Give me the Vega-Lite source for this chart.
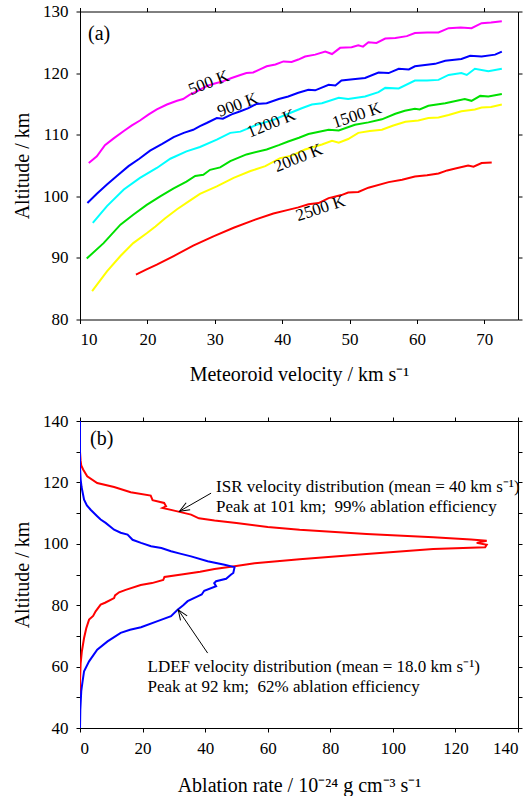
{
  "$schema": "https://vega.github.io/schema/vega-lite/v6.json",
  "background": "white",
  "padding": {"left": 12, "top": 2.5, "right": 5, "bottom": 0},
  "spacing": 27.5,
  "resolve": {"scale": {"color": "independent"}},
  "config": {
    "font": "Liberation Serif",
    "view": {"stroke": null},
    "axis": {
      "grid": false, "domainColor": "black", "tickColor": "black", "labelColor": "black", "titleColor": "black",
      "labelFont": "Liberation Serif", "titleFont": "Liberation Serif", "labelFontSize": 17, "titleFontSize": 20,
      "titleFontWeight": "normal", "tickSize": 4, "labelPadding": 8, "domainWidth": 1, "tickWidth": 1
    },
    "axisX": {"titlePadding": 17},
    "axisY": {"titlePadding": 10}
  },
  "datasets": {
    "a": [
      {"T":"500 K","v":11.3,"alt":105.4},{"T":"500 K","v":12.5,"alt":106.5},{"T":"500 K","v":13.7,"alt":108.3},{"T":"500 K","v":15,"alt":109.4},{"T":"500 K","v":16.5,"alt":110.6},{"T":"500 K","v":17.7,"alt":111.5},{"T":"500 K","v":18.9,"alt":112.3},{"T":"500 K","v":20.2,"alt":113.3},{"T":"500 K","v":21.4,"alt":114.1},{"T":"500 K","v":22.9,"alt":114.9},{"T":"500 K","v":24.4,"alt":115.5},{"T":"500 K","v":25.3,"alt":115.8},{"T":"500 K","v":26.3,"alt":116.5},{"T":"500 K","v":27.5,"alt":117.1},{"T":"500 K","v":28.8,"alt":117.9},{"T":"500 K","v":30,"alt":118.3},{"T":"500 K","v":31.3,"alt":118.7},{"T":"500 K","v":32.5,"alt":119.2},{"T":"500 K","v":33.8,"alt":119.7},{"T":"500 K","v":34.7,"alt":120.0},{"T":"500 K","v":35.7,"alt":120.1},{"T":"500 K","v":36.7,"alt":120.6},{"T":"500 K","v":37.7,"alt":121.1},{"T":"500 K","v":39,"alt":121.4},{"T":"500 K","v":40.2,"alt":121.9},{"T":"500 K","v":41.4,"alt":121.8},{"T":"500 K","v":42.4,"alt":122.2},{"T":"500 K","v":43.4,"alt":122.7},{"T":"500 K","v":44.9,"alt":123.0},{"T":"500 K","v":46.4,"alt":123.5},{"T":"500 K","v":47.4,"alt":123.1},{"T":"500 K","v":48.6,"alt":124.1},{"T":"500 K","v":50.3,"alt":124.2},{"T":"500 K","v":51.3,"alt":124.5},{"T":"500 K","v":52,"alt":124.3},{"T":"500 K","v":52.8,"alt":125.0},{"T":"500 K","v":54.0,"alt":124.9},{"T":"500 K","v":55.3,"alt":125.6},{"T":"500 K","v":56.8,"alt":125.7},{"T":"500 K","v":58.5,"alt":126.0},{"T":"500 K","v":59.7,"alt":126.5},{"T":"500 K","v":61.5,"alt":126.6},{"T":"500 K","v":63.2,"alt":126.6},{"T":"500 K","v":64.7,"alt":127.3},{"T":"500 K","v":66.5,"alt":127.4},{"T":"500 K","v":68.1,"alt":127.3},{"T":"500 K","v":69.6,"alt":128.1},{"T":"500 K","v":71,"alt":128.2},{"T":"500 K","v":72.6,"alt":128.4},
      {"T":"900 K","v":11.1,"alt":98.9},{"T":"900 K","v":12.5,"alt":100.4},{"T":"900 K","v":14.0,"alt":101.9},{"T":"900 K","v":15.6,"alt":103.4},{"T":"900 K","v":17.2,"alt":104.9},{"T":"900 K","v":18.8,"alt":106.1},{"T":"900 K","v":20.4,"alt":107.4},{"T":"900 K","v":22.2,"alt":108.5},{"T":"900 K","v":23.9,"alt":109.6},{"T":"900 K","v":25.4,"alt":110.3},{"T":"900 K","v":26.8,"alt":110.8},{"T":"900 K","v":27.8,"alt":111.4},{"T":"900 K","v":28.8,"alt":111.9},{"T":"900 K","v":30.3,"alt":112.7},{"T":"900 K","v":31.2,"alt":112.6},{"T":"900 K","v":32.5,"alt":113.3},{"T":"900 K","v":33.8,"alt":113.8},{"T":"900 K","v":35,"alt":114.3},{"T":"900 K","v":36.2,"alt":115.0},{"T":"900 K","v":37.7,"alt":115.1},{"T":"900 K","v":39.5,"alt":115.8},{"T":"900 K","v":40.9,"alt":116.2},{"T":"900 K","v":42.4,"alt":116.8},{"T":"900 K","v":43.9,"alt":117.3},{"T":"900 K","v":44.9,"alt":117.2},{"T":"900 K","v":46.9,"alt":118.1},{"T":"900 K","v":47.9,"alt":118.0},{"T":"900 K","v":48.8,"alt":118.8},{"T":"900 K","v":50.5,"alt":119.0},{"T":"900 K","v":52.3,"alt":119.2},{"T":"900 K","v":54.3,"alt":120.1},{"T":"900 K","v":55.8,"alt":120.0},{"T":"900 K","v":57.3,"alt":120.7},{"T":"900 K","v":58.8,"alt":120.6},{"T":"900 K","v":59.7,"alt":121.1},{"T":"900 K","v":61.2,"alt":121.3},{"T":"900 K","v":62.7,"alt":121.5},{"T":"900 K","v":64.2,"alt":122.0},{"T":"900 K","v":66.6,"alt":122.3},{"T":"900 K","v":67.9,"alt":122.8},{"T":"900 K","v":69.6,"alt":122.7},{"T":"900 K","v":71.6,"alt":123.0},{"T":"900 K","v":72.6,"alt":123.5},
      {"T":"1200 K","v":11.9,"alt":95.7},{"T":"1200 K","v":14.0,"alt":98.4},{"T":"1200 K","v":16.5,"alt":101.1},{"T":"1200 K","v":18.9,"alt":103.0},{"T":"1200 K","v":21.4,"alt":104.6},{"T":"1200 K","v":23.4,"alt":106.1},{"T":"1200 K","v":25.8,"alt":107.3},{"T":"1200 K","v":27.8,"alt":108.0},{"T":"1200 K","v":30.3,"alt":109.2},{"T":"1200 K","v":32.3,"alt":110.3},{"T":"1200 K","v":33.8,"alt":110.5},{"T":"1200 K","v":36.2,"alt":111.6},{"T":"1200 K","v":38.7,"alt":112.4},{"T":"1200 K","v":40.9,"alt":113.4},{"T":"1200 K","v":42.9,"alt":114.3},{"T":"1200 K","v":44.4,"alt":114.9},{"T":"1200 K","v":45.9,"alt":115.1},{"T":"1200 K","v":48.4,"alt":116.0},{"T":"1200 K","v":49.8,"alt":115.8},{"T":"1200 K","v":52.3,"alt":116.2},{"T":"1200 K","v":54.3,"alt":116.9},{"T":"1200 K","v":55.3,"alt":117.6},{"T":"1200 K","v":57.3,"alt":117.5},{"T":"1200 K","v":59.7,"alt":118.8},{"T":"1200 K","v":61.5,"alt":118.8},{"T":"1200 K","v":63.2,"alt":118.9},{"T":"1200 K","v":64.7,"alt":119.7},{"T":"1200 K","v":66.6,"alt":120.0},{"T":"1200 K","v":67.4,"alt":119.7},{"T":"1200 K","v":68.6,"alt":120.7},{"T":"1200 K","v":70.6,"alt":120.3},{"T":"1200 K","v":72.6,"alt":120.7},
      {"T":"1500 K","v":11.0,"alt":89.9},{"T":"1500 K","v":13.5,"alt":92.4},{"T":"1500 K","v":16.0,"alt":95.4},{"T":"1500 K","v":17.9,"alt":97.0},{"T":"1500 K","v":19.9,"alt":98.6},{"T":"1500 K","v":21.9,"alt":100.0},{"T":"1500 K","v":23.9,"alt":101.3},{"T":"1500 K","v":25.8,"alt":102.4},{"T":"1500 K","v":27.1,"alt":103.3},{"T":"1500 K","v":28.3,"alt":103.5},{"T":"1500 K","v":29.3,"alt":104.3},{"T":"1500 K","v":30.8,"alt":104.7},{"T":"1500 K","v":32.3,"alt":105.7},{"T":"1500 K","v":34.7,"alt":106.8},{"T":"1500 K","v":37.7,"alt":107.6},{"T":"1500 K","v":39.5,"alt":108.3},{"T":"1500 K","v":40.9,"alt":108.9},{"T":"1500 K","v":42.5,"alt":109.5},{"T":"1500 K","v":43.9,"alt":110.1},{"T":"1500 K","v":46.9,"alt":110.8},{"T":"1500 K","v":48.4,"alt":110.7},{"T":"1500 K","v":50.8,"alt":111.6},{"T":"1500 K","v":52.8,"alt":112.0},{"T":"1500 K","v":54.8,"alt":112.5},{"T":"1500 K","v":56.8,"alt":113.4},{"T":"1500 K","v":58.2,"alt":113.9},{"T":"1500 K","v":59.7,"alt":114.2},{"T":"1500 K","v":60.4,"alt":114.1},{"T":"1500 K","v":61.7,"alt":114.7},{"T":"1500 K","v":64.2,"alt":115.1},{"T":"1500 K","v":67.1,"alt":115.8},{"T":"1500 K","v":68.1,"alt":115.5},{"T":"1500 K","v":69.4,"alt":116.3},{"T":"1500 K","v":70.6,"alt":116.2},{"T":"1500 K","v":72.6,"alt":116.6},
      {"T":"2000 K","v":11.8,"alt":84.6},{"T":"2000 K","v":14.0,"alt":87.8},{"T":"2000 K","v":16.0,"alt":90.3},{"T":"2000 K","v":17.9,"alt":92.4},{"T":"2000 K","v":19.9,"alt":94.0},{"T":"2000 K","v":21.2,"alt":95.1},{"T":"2000 K","v":22.6,"alt":96.4},{"T":"2000 K","v":24.4,"alt":97.9},{"T":"2000 K","v":26.3,"alt":99.3},{"T":"2000 K","v":27.8,"alt":100.4},{"T":"2000 K","v":30.3,"alt":101.6},{"T":"2000 K","v":32.8,"alt":103.0},{"T":"2000 K","v":35.3,"alt":104.1},{"T":"2000 K","v":37.5,"alt":104.9},{"T":"2000 K","v":39.7,"alt":106.2},{"T":"2000 K","v":41.4,"alt":106.6},{"T":"2000 K","v":43.4,"alt":107.6},{"T":"2000 K","v":45.9,"alt":108.4},{"T":"2000 K","v":47.4,"alt":109.0},{"T":"2000 K","v":48.4,"alt":108.7},{"T":"2000 K","v":49.8,"alt":109.3},{"T":"2000 K","v":51.3,"alt":110.3},{"T":"2000 K","v":53,"alt":110.6},{"T":"2000 K","v":54.8,"alt":110.8},{"T":"2000 K","v":56.5,"alt":111.5},{"T":"2000 K","v":58.3,"alt":112.1},{"T":"2000 K","v":60.2,"alt":112.3},{"T":"2000 K","v":61.7,"alt":112.7},{"T":"2000 K","v":63.2,"alt":112.8},{"T":"2000 K","v":64.7,"alt":113.2},{"T":"2000 K","v":66.6,"alt":113.8},{"T":"2000 K","v":68.6,"alt":114.1},{"T":"2000 K","v":69.6,"alt":114.4},{"T":"2000 K","v":71,"alt":114.5},{"T":"2000 K","v":72.6,"alt":114.9},
      {"T":"2500 K","v":18.3,"alt":87.3},{"T":"2500 K","v":19.8,"alt":88.1},{"T":"2500 K","v":21.4,"alt":88.9},{"T":"2500 K","v":23.9,"alt":90.3},{"T":"2500 K","v":26.8,"alt":92.0},{"T":"2500 K","v":29.8,"alt":93.5},{"T":"2500 K","v":32.8,"alt":94.9},{"T":"2500 K","v":35.7,"alt":96.1},{"T":"2500 K","v":38.7,"alt":97.2},{"T":"2500 K","v":40.9,"alt":97.8},{"T":"2500 K","v":42.4,"alt":98.2},{"T":"2500 K","v":43.9,"alt":98.7},{"T":"2500 K","v":45.4,"alt":98.9},{"T":"2500 K","v":46.9,"alt":99.7},{"T":"2500 K","v":48.8,"alt":100.2},{"T":"2500 K","v":49.8,"alt":100.6},{"T":"2500 K","v":51.3,"alt":100.7},{"T":"2500 K","v":52.8,"alt":101.4},{"T":"2500 K","v":55.8,"alt":102.3},{"T":"2500 K","v":57.8,"alt":102.7},{"T":"2500 K","v":59.7,"alt":103.2},{"T":"2500 K","v":61.5,"alt":103.4},{"T":"2500 K","v":63.2,"alt":103.7},{"T":"2500 K","v":64.5,"alt":104.2},{"T":"2500 K","v":65.7,"alt":104.5},{"T":"2500 K","v":67.6,"alt":105.0},{"T":"2500 K","v":68.4,"alt":104.8},{"T":"2500 K","v":69.6,"alt":105.4},{"T":"2500 K","v":71.1,"alt":105.5}
    ],
    "alab": [
      {"label":"500 K","v":29.1,"alt":118.4,"ang":-21},
      {"label":"900 K","v":33.4,"alt":114.8,"ang":-20},
      {"label":"1200 K","v":38.4,"alt":111.8,"ang":-22},
      {"label":"1500 K","v":51.1,"alt":113.1,"ang":-18},
      {"label":"2000 K","v":42.4,"alt":106.2,"ang":-22},
      {"label":"2500 K","v":45.7,"alt":98.0,"ang":-18}
    ],
    "pa": [{"label":"(a)","v":11.2,"alt":125.4}],
    "b": [
      {"s":"ISR","rate":0,"alt":140},{"s":"ISR","rate":0,"alt":130},{"s":"ISR","rate":0.2,"alt":127},{"s":"ISR","rate":0.4,"alt":125.5},{"s":"ISR","rate":1,"alt":124.2},{"s":"ISR","rate":2.3,"alt":122},{"s":"ISR","rate":5.5,"alt":119.8},{"s":"ISR","rate":10.9,"alt":118.5},{"s":"ISR","rate":16.2,"alt":116.8},{"s":"ISR","rate":22.6,"alt":115.7},{"s":"ISR","rate":23.2,"alt":114.2},{"s":"ISR","rate":26.9,"alt":113.3},{"s":"ISR","rate":27.5,"alt":112.2},{"s":"ISR","rate":26.4,"alt":111.7},{"s":"ISR","rate":30.1,"alt":110.8},{"s":"ISR","rate":35.5,"alt":109.5},{"s":"ISR","rate":38,"alt":108.3},{"s":"ISR","rate":43,"alt":107.6},{"s":"ISR","rate":50,"alt":106.8},{"s":"ISR","rate":60,"alt":105.5},{"s":"ISR","rate":70.2,"alt":104.6},{"s":"ISR","rate":91.6,"alt":103.2},{"s":"ISR","rate":112.9,"alt":102.1},{"s":"ISR","rate":125,"alt":101.4},{"s":"ISR","rate":130,"alt":101.0},{"s":"ISR","rate":126.8,"alt":100.3},{"s":"ISR","rate":130,"alt":99.7},{"s":"ISR","rate":129.5,"alt":98.9},{"s":"ISR","rate":112.9,"alt":98.3},{"s":"ISR","rate":91.6,"alt":96.7},{"s":"ISR","rate":70.2,"alt":95.0},{"s":"ISR","rate":55.8,"alt":93.7},{"s":"ISR","rate":49.4,"alt":92.7},{"s":"ISR","rate":43,"alt":91.8},{"s":"ISR","rate":38.4,"alt":90.9},{"s":"ISR","rate":33,"alt":90.1},{"s":"ISR","rate":27,"alt":89.2},{"s":"ISR","rate":26.6,"alt":88.2},{"s":"ISR","rate":23,"alt":87.2},{"s":"ISR","rate":19.4,"alt":86.6},{"s":"ISR","rate":14.6,"alt":85.0},{"s":"ISR","rate":12.5,"alt":84.2},{"s":"ISR","rate":11.2,"alt":83.2},{"s":"ISR","rate":10.9,"alt":82.3},{"s":"ISR","rate":8,"alt":80.8},{"s":"ISR","rate":6.6,"alt":80.2},{"s":"ISR","rate":5.0,"alt":78.0},{"s":"ISR","rate":4.2,"alt":76.5},{"s":"ISR","rate":2.9,"alt":75.3},{"s":"ISR","rate":2,"alt":72.5},{"s":"ISR","rate":1.3,"alt":69.3},{"s":"ISR","rate":0.6,"alt":65},{"s":"ISR","rate":0.2,"alt":61},{"s":"ISR","rate":0,"alt":55},{"s":"ISR","rate":0,"alt":48},
      {"s":"LDEF","rate":0,"alt":140},{"s":"LDEF","rate":0,"alt":125},{"s":"LDEF","rate":0.2,"alt":121},{"s":"LDEF","rate":0.5,"alt":118.5},{"s":"LDEF","rate":1.3,"alt":114.4},{"s":"LDEF","rate":2.2,"alt":112.5},{"s":"LDEF","rate":3.4,"alt":111.1},{"s":"LDEF","rate":5.5,"alt":109.0},{"s":"LDEF","rate":6.6,"alt":107.9},{"s":"LDEF","rate":8.2,"alt":106.8},{"s":"LDEF","rate":10.9,"alt":104.6},{"s":"LDEF","rate":13,"alt":103.6},{"s":"LDEF","rate":15.2,"alt":103.0},{"s":"LDEF","rate":16.8,"alt":101.3},{"s":"LDEF","rate":19.5,"alt":100.3},{"s":"LDEF","rate":22.7,"alt":99.2},{"s":"LDEF","rate":26,"alt":98.6},{"s":"LDEF","rate":29.1,"alt":97.6},{"s":"LDEF","rate":32,"alt":96.8},{"s":"LDEF","rate":35.5,"alt":95.9},{"s":"LDEF","rate":40.8,"alt":94.3},{"s":"LDEF","rate":46.2,"alt":93.2},{"s":"LDEF","rate":49.4,"alt":92.4},{"s":"LDEF","rate":49,"alt":90.5},{"s":"LDEF","rate":48.3,"alt":90.0},{"s":"LDEF","rate":46.7,"alt":88.6},{"s":"LDEF","rate":43.5,"alt":87.8},{"s":"LDEF","rate":42.9,"alt":87.2},{"s":"LDEF","rate":43.5,"alt":86.2},{"s":"LDEF","rate":39.7,"alt":84.7},{"s":"LDEF","rate":38.9,"alt":83.5},{"s":"LDEF","rate":37.6,"alt":82.9},{"s":"LDEF","rate":34.4,"alt":81.3},{"s":"LDEF","rate":33,"alt":80},{"s":"LDEF","rate":31.2,"alt":78.5},{"s":"LDEF","rate":29.1,"alt":76.4},{"s":"LDEF","rate":24.8,"alt":74.8},{"s":"LDEF","rate":19.5,"alt":72.8},{"s":"LDEF","rate":16,"alt":72.0},{"s":"LDEF","rate":13,"alt":71.0},{"s":"LDEF","rate":8.8,"alt":68.2},{"s":"LDEF","rate":5.5,"alt":65.5},{"s":"LDEF","rate":2.9,"alt":61.7},{"s":"LDEF","rate":1.3,"alt":58.5},{"s":"LDEF","rate":0.8,"alt":55},{"s":"LDEF","rate":0.4,"alt":52.0},{"s":"LDEF","rate":0.1,"alt":46},{"s":"LDEF","rate":0,"alt":40}
    ],
    "btext": [
      {"t":"ISR velocity distribution (mean = 40 km s⁻¹)","rate":43.5,"alt":116.8},
      {"t":"Peak at 101 km;\u00a0 99% ablation efficiency","rate":43.5,"alt":110.3},
      {"t":"LDEF velocity distribution (mean = 18.0 km s⁻¹)","rate":21.6,"alt":58.2},
      {"t":"Peak at 92 km;\u00a0 62% ablation efficiency","rate":21.6,"alt":51.7}
    ],
    "pb": [{"label":"(b)","rate":3.2,"alt":132.2}],
    "arrows": [
      {"rate":41.9,"alt":116.5,"rate2":31.8,"alt2":110.6,"ang":150},
      {"rate":40.8,"alt":64.4,"rate2":31.4,"alt2":78.5,"ang":236}
    ]
  },
  "vconcat": [
    {
      "width": 438, "height": 308,
      "layer": [
        {
          "data": {"name": "a"},
          "mark": {"type": "line", "strokeWidth": 2, "clip": true},
          "encoding": {
            "x": {"field": "v", "type": "quantitative", "scale": {"domain": [10, 75], "nice": false, "zero": false},
                  "axis": {"values": [10,20,30,40,50,60,70], "title": "Meteoroid velocity / km s⁻¹"}},
            "y": {"field": "alt", "type": "quantitative", "scale": {"domain": [80, 130], "nice": false, "zero": false},
                  "axis": {"values": [80,90,100,110,120,130], "title": "Altitude / km"}},
            "color": {"field": "T", "type": "nominal", "legend": null,
                      "scale": {"domain": ["500 K","900 K","1200 K","1500 K","2000 K","2500 K"],
                                "range": ["#ff00ff","#0000ff","#00ffff","#00e000","#ffff00","#ff0000"]}}
          }
        },
        {
          "data": {"name": "alab"},
          "mark": {"type": "text", "fontSize": 17, "font": "Liberation Serif", "color": "black", "align": "center", "baseline": "middle"},
          "encoding": {
            "x": {"field": "v", "type": "quantitative", "scale": {"domain": [10, 75], "nice": false, "zero": false},
                  "axis": {"orient": "top", "labels": false, "title": null, "values": [10,20,30,40,50,60,70]}},
            "y": {"field": "alt", "type": "quantitative", "scale": {"domain": [80, 130], "nice": false, "zero": false},
                  "axis": {"orient": "right", "labels": false, "title": null, "values": [80,90,100,110,120,130]}},
            "text": {"field": "label"},
            "angle": {"field": "ang", "type": "quantitative", "scale": null}
          }
        },
        {
          "data": {"name": "pa"},
          "mark": {"type": "text", "fontSize": 20, "font": "Liberation Serif", "color": "black", "align": "left", "baseline": "alphabetic"},
          "encoding": {
            "x": {"field": "v", "type": "quantitative", "axis": null},
            "y": {"field": "alt", "type": "quantitative", "axis": null},
            "text": {"field": "label"}
          }
        }
      ],
      "resolve": {"axis": {"x": "independent", "y": "independent"}}
    },
    {
      "width": 438, "height": 307,
      "layer": [
        {
          "data": {"name": "b"},
          "mark": {"type": "line", "strokeWidth": 2, "clip": true},
          "encoding": {
            "x": {"field": "rate", "type": "quantitative", "scale": {"domain": [0, 140], "nice": false},
                  "axis": {"values": [0,20,40,60,80,100,120,140], "title": "Ablation rate / 10⁻²⁴ g cm⁻³ s⁻¹", "titlePadding": 19}},
            "y": {"field": "alt", "type": "quantitative", "scale": {"domain": [40, 140], "nice": false, "zero": false},
                  "axis": {"values": [40,50,60,70,80,90,100,110,120,130,140], "labelExpr": "datum.value % 20 === 0 ? datum.label : ''", "title": "Altitude / km"}},
            "color": {"field": "s", "type": "nominal", "legend": null,
                      "scale": {"domain": ["ISR","LDEF"], "range": ["#ff0000","#0000ff"]}},
            "order": {"field": "alt", "type": "quantitative", "sort": "descending"}
          }
        },
        {
          "data": {"name": "arrows"},
          "mark": {"type": "rule", "color": "black", "strokeWidth": 1},
          "encoding": {
            "x": {"field": "rate", "type": "quantitative", "scale": {"domain": [0, 140], "nice": false},
                  "axis": {"orient": "top", "labels": false, "title": null, "values": [0,20,40,60,80,100,120,140]}},
            "y": {"field": "alt", "type": "quantitative", "scale": {"domain": [40, 140], "nice": false, "zero": false},
                  "axis": {"orient": "right", "labels": false, "title": null, "values": [40,50,60,70,80,90,100,110,120,130,140]}},
            "x2": {"field": "rate2"},
            "y2": {"field": "alt2"}
          }
        },
        {
          "data": {"name": "arrows"},
          "mark": {"type": "point", "shape": "M -1 -0.4 L 0 0 L -1 0.4", "filled": false, "stroke": "black", "strokeWidth": 1, "size": 400, "opacity": 1},
          "encoding": {
            "x": {"field": "rate2", "type": "quantitative", "axis": null},
            "y": {"field": "alt2", "type": "quantitative", "axis": null},
            "angle": {"field": "ang", "type": "quantitative", "scale": null}
          }
        },
        {
          "data": {"name": "btext"},
          "mark": {"type": "text", "fontSize": 17, "font": "Liberation Serif", "color": "black", "align": "left", "baseline": "alphabetic"},
          "encoding": {
            "x": {"field": "rate", "type": "quantitative", "axis": null},
            "y": {"field": "alt", "type": "quantitative", "axis": null},
            "text": {"field": "t"}
          }
        },
        {
          "data": {"name": "pb"},
          "mark": {"type": "text", "fontSize": 20, "font": "Liberation Serif", "color": "black", "align": "left", "baseline": "alphabetic"},
          "encoding": {
            "x": {"field": "rate", "type": "quantitative", "axis": null},
            "y": {"field": "alt", "type": "quantitative", "axis": null},
            "text": {"field": "label"}
          }
        }
      ],
      "resolve": {"axis": {"x": "independent", "y": "independent"}}
    }
  ]
}
